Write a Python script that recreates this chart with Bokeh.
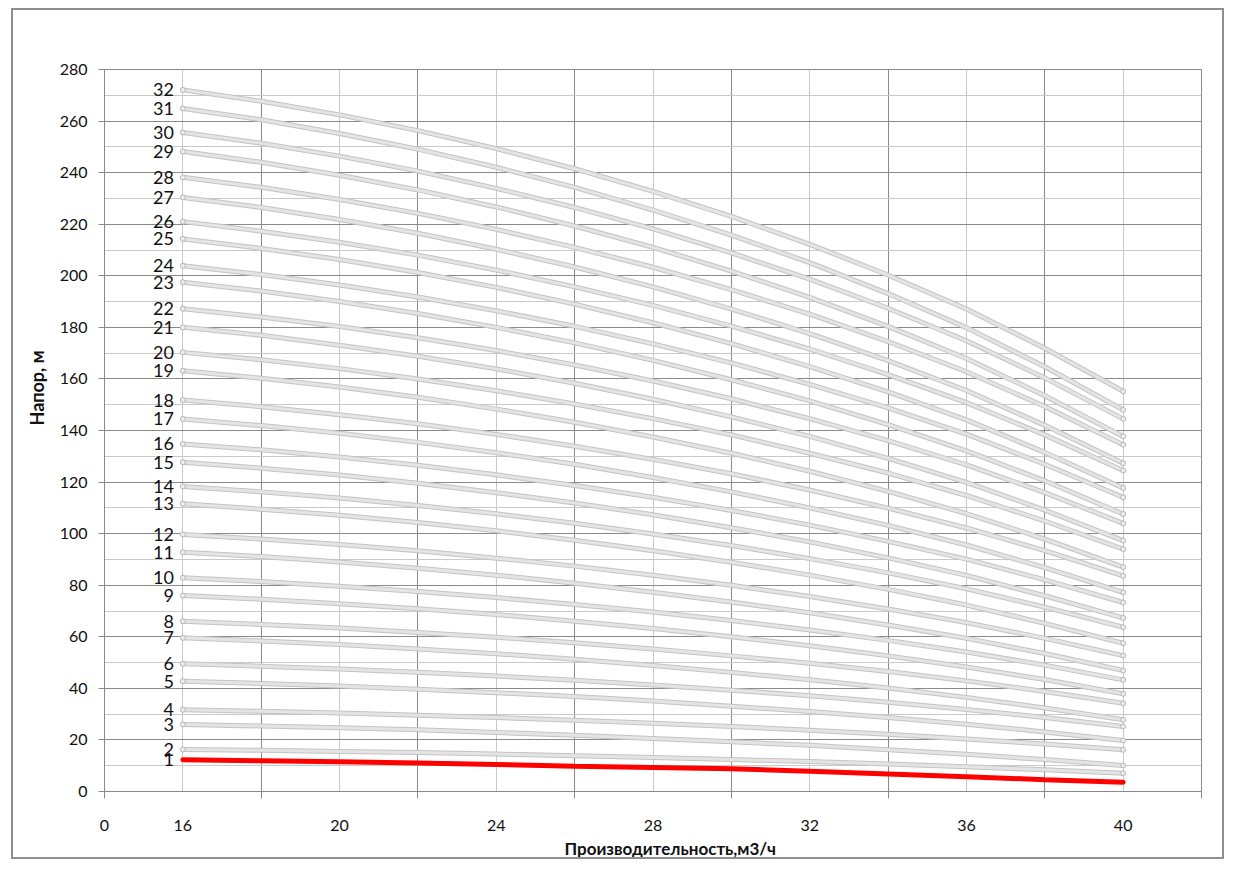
from bokeh.plotting import figure
from bokeh.models import Range1d, FixedTicker, ColumnDataSource, Title
from bokeh.core.properties import value
from bokeh.embed import file_html
from bokeh.resources import INLINE

# ---------------- data ----------------
flow = [16, 18, 20, 22, 24, 26, 28, 30, 32, 34, 36, 38, 40]   # m3/h

head_s01 = [12.3, 11.9, 11.5, 11.1, 10.5, 9.8, 9.3, 8.8, 7.9, 6.8, 5.7, 4.6, 3.6]
head_s02 = [16.3, 16.0, 15.5, 15.1, 14.5, 13.9, 13.2, 12.4, 11.6, 10.7, 9.6, 8.4, 7.1]
head_s03 = [26.0, 25.4, 24.7, 23.9, 22.9, 21.8, 20.6, 19.3, 17.9, 16.2, 14.4, 12.4, 10.1]
head_s04 = [31.7, 31.1, 30.4, 29.6, 28.7, 27.6, 26.5, 25.2, 23.8, 22.2, 20.4, 18.4, 16.2]
head_s05 = [42.8, 41.9, 40.9, 39.7, 38.3, 36.8, 35.1, 33.1, 31.0, 28.7, 26.1, 23.1, 19.8]
head_s06 = [49.5, 48.6, 47.5, 46.2, 44.8, 43.1, 41.3, 39.3, 37.1, 34.6, 31.8, 28.7, 25.2]
head_s07 = [59.6, 58.4, 57.0, 55.3, 53.4, 51.3, 48.9, 46.2, 43.3, 40.1, 36.5, 32.4, 27.8]
head_s08 = [66.0, 64.8, 63.4, 61.7, 59.8, 57.7, 55.3, 52.6, 49.7, 46.5, 42.9, 38.8, 34.2]
head_s09 = [76.0, 74.6, 72.8, 70.9, 68.6, 66.0, 63.2, 60.0, 56.5, 52.6, 48.3, 43.4, 37.9]
head_s10 = [82.9, 81.4, 79.6, 77.6, 75.2, 72.5, 69.6, 66.3, 62.6, 58.6, 54.1, 49.0, 43.3]
head_s11 = [92.8, 91.1, 89.0, 86.6, 83.9, 80.8, 77.3, 73.5, 69.3, 64.6, 59.4, 53.5, 46.9]
head_s12 = [99.7, 97.9, 95.8, 93.4, 90.5, 87.4, 83.9, 80.0, 75.6, 70.8, 65.5, 59.4, 52.7]
head_s13 = [111.6, 109.5, 107.1, 104.3, 101.1, 97.4, 93.4, 88.9, 83.9, 78.4, 72.3, 65.2, 57.5]
head_s14 = [118.3, 116.2, 113.8, 110.9, 107.7, 104.0, 99.9, 95.4, 90.3, 84.8, 78.6, 71.5, 63.7]
head_s15 = [127.7, 125.4, 122.7, 119.5, 115.9, 111.9, 107.3, 102.3, 96.8, 90.6, 83.8, 75.9, 67.3]
head_s16 = [134.8, 132.5, 129.7, 126.5, 122.8, 118.7, 114.1, 109.0, 103.3, 97.0, 90.1, 82.1, 73.3]
head_s17 = [144.5, 141.9, 138.9, 135.4, 131.4, 126.9, 121.8, 116.2, 110.0, 103.2, 95.6, 86.8, 77.2]
head_s18 = [151.8, 149.2, 146.1, 142.6, 138.5, 133.9, 128.8, 123.2, 116.9, 109.9, 102.2, 93.4, 83.6]
head_s19 = [163.2, 160.3, 156.9, 152.9, 148.3, 143.2, 137.5, 131.2, 124.2, 116.4, 107.8, 97.9, 87.0]
head_s20 = [170.3, 167.4, 164.0, 160.0, 155.4, 150.3, 144.6, 138.3, 131.2, 123.5, 114.8, 104.9, 94.0]
head_s21 = [180.0, 176.9, 173.1, 168.8, 163.9, 158.3, 152.1, 145.3, 137.7, 129.2, 119.9, 109.1, 97.3]
head_s22 = [187.2, 184.0, 180.3, 176.0, 171.0, 165.4, 159.2, 152.3, 144.6, 136.1, 126.7, 115.9, 104.0]
head_s23 = [197.5, 194.1, 190.0, 185.4, 180.0, 174.0, 167.2, 159.7, 151.5, 142.3, 132.1, 120.5, 107.6]
head_s24 = [203.9, 200.5, 196.4, 191.8, 186.4, 180.4, 173.6, 166.2, 157.9, 148.8, 138.6, 126.9, 114.1]
head_s25 = [214.3, 210.6, 206.3, 201.3, 195.5, 189.0, 181.8, 173.7, 164.8, 155.0, 144.1, 131.5, 117.7]
head_s26 = [221.0, 217.3, 213.0, 208.0, 202.2, 195.7, 188.5, 180.5, 171.6, 161.7, 150.8, 138.3, 124.5]
head_s27 = [230.4, 226.5, 221.8, 216.5, 210.3, 203.4, 195.7, 187.1, 177.6, 167.1, 155.5, 142.0, 127.3]
head_s28 = [238.2, 234.3, 229.6, 224.2, 218.0, 211.0, 203.3, 194.6, 185.1, 174.5, 162.8, 149.3, 134.5]
head_s29 = [248.2, 244.0, 239.0, 233.3, 226.7, 219.3, 211.0, 201.8, 191.6, 180.4, 167.9, 153.5, 137.7]
head_s30 = [255.6, 251.4, 246.4, 240.6, 233.9, 226.5, 218.2, 208.9, 198.7, 187.4, 174.8, 160.4, 144.5]
head_s31 = [264.9, 260.5, 255.2, 249.1, 242.1, 234.3, 225.5, 215.8, 205.1, 193.1, 179.9, 164.7, 148.0]
head_s32 = [272.1, 267.7, 262.4, 256.3, 249.3, 241.5, 232.7, 223.0, 212.2, 200.3, 187.1, 171.9, 155.2]

gray_curves = [head_s02, head_s03, head_s04, head_s05, head_s06, head_s07, head_s08, head_s09,
               head_s10, head_s11, head_s12, head_s13, head_s14, head_s15, head_s16, head_s17,
               head_s18, head_s19, head_s20, head_s21, head_s22, head_s23, head_s24, head_s25,
               head_s26, head_s27, head_s28, head_s29, head_s30, head_s31, head_s32]
stage_labels = [str(n) for n in range(1, 33)]

y_ticks = list(range(0, 281, 20))
y_minor = list(range(10, 280, 20))
x_label_ticks = [14, 16, 20, 24, 28, 32, 36, 40]
x_tick_marks = [14, 18, 22, 26, 30, 34, 38, 42]
x_label_text = {14: "0"}

x_title = "Производительность,м3/ч"
y_title = "Напор, м"

FONT = "Lato"
DARK = "#8a8a8a"
LIGHT = "#c9c9c9"

# ---------------- figure ----------------
p = figure(width=1213, height=851, output_backend="svg", toolbar_location=None,
           x_range=Range1d(14, 42), y_range=Range1d(0, 280),
           min_border_left=91, min_border_right=25, min_border_top=59, min_border_bottom=70,
           background_fill_color="white", border_fill_color="white")
p.styles = {"border": "2px solid #8f8f8f", "margin-left": "11px", "margin-top": "8px"}
p.outline_line_color = DARK

# axes
p.xaxis.ticker = FixedTicker(ticks=x_label_ticks, minor_ticks=x_tick_marks)
p.yaxis.ticker = FixedTicker(ticks=y_ticks, minor_ticks=y_minor)
p.xaxis.major_label_overrides = x_label_text
for ax in (p.xaxis, p.yaxis):
    ax.axis_line_color = DARK
    ax.major_tick_line_color = DARK
    ax.minor_tick_line_color = DARK
    ax.major_label_text_font = FONT
    ax.major_label_text_font_size = "16px"
    ax.major_label_text_color = "#111111"
    ax.major_tick_in = 0
    ax.minor_tick_in = 0
p.xaxis.major_tick_out = 0
p.xaxis.minor_tick_out = 7
p.xaxis.major_label_standoff = 21
p.yaxis.major_tick_out = 6
p.yaxis.minor_tick_out = 0
p.yaxis.major_label_standoff = 11

# axis titles
p.add_layout(Title(text=x_title, align="left", offset=460, standoff=4,
                   text_font=FONT, text_font_size="17px", text_font_style="bold",
                   text_color="#111111"), "below")
p.add_layout(Title(text=y_title, align="left", offset=366, standoff=18,
                   text_font=FONT, text_font_size="18px", text_font_style="bold",
                   text_color="#111111"), "left")

# grids
p.xgrid.ticker = p.xaxis.ticker
p.ygrid.ticker = p.yaxis.ticker
p.xgrid.grid_line_color = LIGHT
p.xgrid.minor_grid_line_color = DARK
p.ygrid.grid_line_color = DARK
p.ygrid.minor_grid_line_color = LIGHT

# gray curves (2..32 stages)
src = ColumnDataSource(dict(xs=[flow for _ in gray_curves], ys=gray_curves))
p.multi_line("xs", "ys", source=src, line_color="#c4c4c4", line_width=5, line_cap="round", line_join="round")
p.multi_line("xs", "ys", source=src, line_color="#e4e4e4", line_width=3, line_cap="round", line_join="round")
p.scatter([flow[0]] * len(gray_curves), [c[0] for c in gray_curves], size=5,
          fill_color="#ececec", line_color="#b8b8b8", line_width=1)
p.scatter([flow[-1]] * len(gray_curves), [c[-1] for c in gray_curves], size=5,
          fill_color="#ececec", line_color="#b8b8b8", line_width=1)

# red curve (1 stage)
p.line(flow, head_s01, line_color="#ff0000", line_width=5, line_cap="round")

# stage labels
lab_src = ColumnDataSource(dict(x=[flow[0]] * 32,
                                y=[head_s01[0]] + [c[0] for c in gray_curves],
                                t=stage_labels))
p.text("x", "y", text="t", source=lab_src, x_offset=-9, text_align="right", text_baseline="middle",
       text_font=value(FONT), text_font_size="18px", text_color="#111111")

open("out.html", "w").write(file_html(p, INLINE))
